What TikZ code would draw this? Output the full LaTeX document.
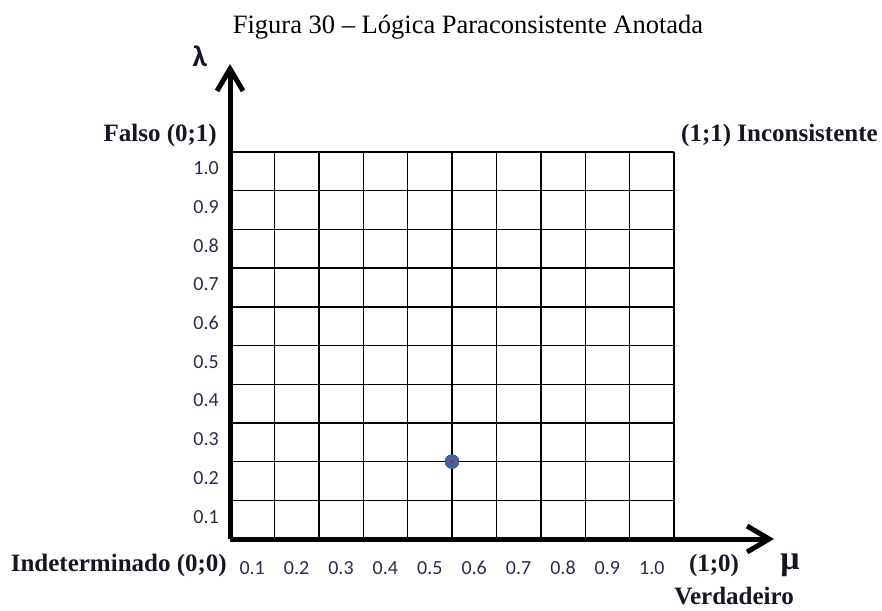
\documentclass[tikz,border=0pt]{standalone}
\usepackage{fontspec}
\setmainfont{Liberation Serif}
\newfontfamily\numfont{Carlito}
\usetikzlibrary{arrows.meta}
\definecolor{numcol}{RGB}{40,45,75}
\definecolor{lblcol}{RGB}{25,20,35}
\definecolor{dotblue}{RGB}{62,102,162}
\begin{document}
\begin{tikzpicture}[x=1pt,y=-1pt,
  axis/.style={line width=5pt,-{Straight Barb[length=22pt,width=26pt]}},
  gridline/.style={line width=1.4pt,black},
  numlbl/.style={inner sep=0pt,text=numcol,font=\numfont\fontsize{20}{22}\selectfont},
  boldlbl/.style={inner sep=0pt,text=lblcol,font=\bfseries\fontsize{25}{28}\selectfont},
  captionlbl/.style={inner sep=0pt,font=\fontsize{26.5}{30}\selectfont}]
\useasboundingbox (0,0) rectangle (882,610);
% caption
\node[captionlbl] (cap) at (468,27) {Figura 30 -- Lógica Paraconsistente Anotada};
% grid
\foreach \i in {1,...,10} {
  \draw[gridline] ({230+44.4*\i},152) -- ({230+44.4*\i},539);
}
\foreach \j in {0,...,9} {
  \draw[gridline] (230,{152+38.7*\j}) -- (674,{152+38.7*\j});
}
% axes
\coordinate (origin) at (230,539);
\coordinate (ytip) at (230,64);
\coordinate (xtip) at (774,539);
\draw[axis] (origin) -- (ytip);
\draw[axis] (origin) -- (xtip);
% axis labels
\node[inner sep=0pt,text=lblcol,font=\numfont\bfseries\fontsize{30}{32}\selectfont] (lambda) at (200,56) {λ};
\node[inner sep=0pt,text=lblcol,font=\bfseries\fontsize{34}{36}\selectfont] (mu) at (790,565) {μ};
% tick labels
\foreach \i/\t in {1/0.1,2/0.2,3/0.3,4/0.4,5/0.5,6/0.6,7/0.7,8/0.8,9/0.9,10/1.0} {
  \node[numlbl] (x\i) at ({230+44.4*(\i-0.5)},568) {\t};
  \node[numlbl,anchor=east] (y\i) at (219,{539-38.7*(\i-0.5)-3}) {\t};
}
% corner labels
\node[boldlbl,anchor=east] (falso) at (217,135) {Falso (0;1)};
\node[boldlbl,anchor=west] (incons) at (681,135) {(1;1) Inconsistente};
\node[boldlbl,anchor=east] (indet) at (227,565) {Indeterminado (0;0)};
\node[boldlbl] (verd10) at (714,565) {(1;0)};
\node[boldlbl] (verd) at (734,596) {Verdadeiro};
% point
\node[circle,fill=dotblue,draw=dotblue!80!black,line width=0.6pt,minimum size=14pt,inner sep=0pt] (pt) at ({230+44.4*5},{539-38.7*2}) {};
\fill[red] (pt.center) circle (1.6pt);
\end{tikzpicture}
\end{document}
